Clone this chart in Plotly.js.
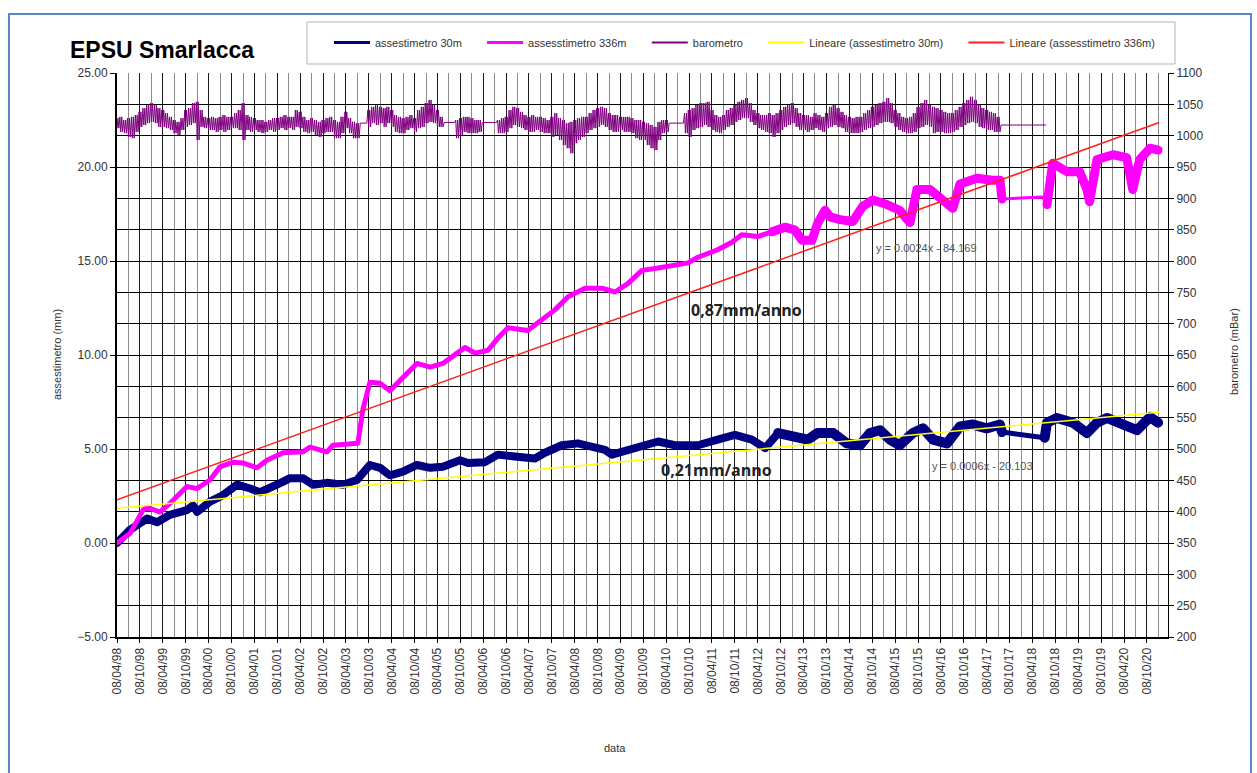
<!DOCTYPE html>
<html><head><meta charset="utf-8">
<script src="https://cdn.plot.ly/plotly-3.0.1.min.js"></script>
<style>
html,body{margin:0;padding:0;background:#fff}
#chart{width:1257px;height:773px}
.scatterlayer .js-line{stroke-linejoin:round;stroke-linecap:round}
</style>
</head><body><div id="chart"></div>
<script>
// ---------- DATA ----------
const seriesNames = ['assestimetro 30m','assesstimetro 336m','barometro','Lineare (assestimetro 30m)','Lineare (assesstimetro 336m)'];

// assestimetro 30m (mm)
const dates30 = ['1998-04-08','1998-07-20','1998-10-09','1998-12-04','1999-02-22','1999-06-04','1999-10-18','1999-12-05','2000-01-07','2000-04-19','2000-08-01','2000-11-21','2001-03-06','2001-05-23','2001-11-05','2002-01-18','2002-04-30','2002-07-20','2002-11-09','2003-03-15','2003-07-05','2003-10-17','2004-01-06','2004-03-25','2004-07-07','2004-10-27','2005-02-09','2005-05-21','2005-10-05','2005-12-08','2006-04-22','2006-08-04','2006-12-17','2007-05-26','2007-08-14','2007-12-26','2008-05-02','2008-08-23','2008-12-05','2009-01-30','2009-06-05','2009-10-20','2010-02-02','2010-06-17','2010-12-17','2011-05-23','2011-10-08','2012-02-20','2012-06-05','2012-09-17','2013-01-29','2013-05-11','2013-07-29','2013-11-29','2014-03-18','2014-07-02','2014-09-20','2014-12-08','2015-02-26','2015-05-14','2015-08-28','2015-11-17','2016-02-05','2016-05-26','2016-09-08','2016-12-20','2017-04-08','2017-07-23','2017-08-08','2018-07-15','2018-08-02','2018-10-20','2019-02-26','2019-06-17','2019-09-05','2019-11-23','2020-03-05','2020-07-20','2020-11-02','2021-01-05'];
const vals30 = [0.0,0.7,1.05,1.3,1.1,1.5,1.75,2.0,1.65,2.2,2.55,3.1,2.9,2.7,3.2,3.45,3.45,3.1,3.2,3.1,3.35,4.15,4.0,3.6,3.8,4.15,4.0,4.05,4.4,4.25,4.3,4.7,4.6,4.5,4.8,5.2,5.3,5.1,4.95,4.7,4.95,5.3,5.4,5.2,5.2,5.5,5.75,5.5,5.05,5.85,5.65,5.5,5.85,5.85,5.3,5.2,5.85,6.0,5.5,5.2,5.85,6.1,5.5,5.3,6.2,6.3,6.1,6.3,5.9,5.6,6.4,6.65,6.4,5.85,6.4,6.65,6.4,6.0,6.7,6.4];

// assesstimetro 336m (mm)
const dates336 = ['1998-04-08','1998-07-20','1998-11-01','1998-12-04','1999-03-16','1999-06-04','1999-10-18','2000-01-07','2000-04-19','2000-07-08','2000-10-20','2001-01-09','2001-04-29','2001-07-17','2001-11-23','2002-04-30','2002-06-26','2002-11-09','2002-12-26','2003-06-03','2003-07-13','2003-08-22','2003-10-17','2004-01-06','2004-03-25','2004-07-07','2004-10-27','2005-02-09','2005-05-21','2005-09-12','2005-11-14','2006-02-03','2006-05-16','2006-08-04','2006-10-23','2007-03-29','2007-07-20','2007-11-01','2008-02-14','2008-06-29','2008-11-11','2009-02-23','2009-06-05','2009-09-26','2010-01-08','2010-07-10','2010-09-29','2010-12-17','2011-05-23','2011-09-14','2011-12-02','2012-04-08','2012-07-29','2012-11-11','2013-01-29','2013-03-26','2013-06-14','2013-07-29','2013-09-26','2013-11-05','2014-01-23','2014-05-05','2014-07-23','2014-10-14','2015-02-02','2015-05-14','2015-08-05','2015-09-29','2016-01-11','2016-04-23','2016-07-11','2016-09-08','2017-01-20','2017-05-26','2017-07-23','2017-08-08','2018-06-29','2018-08-02','2018-09-17','2019-01-08','2019-04-20','2019-06-17','2019-07-08','2019-09-05','2020-01-11','2020-04-29','2020-06-17','2020-08-11','2020-11-02','2021-01-05'];
const vals336 = [0.0,0.5,1.75,1.9,1.65,2.1,3.0,2.9,3.35,4.05,4.3,4.25,4.0,4.4,4.8,4.85,5.1,4.85,5.2,5.3,5.3,7.1,8.55,8.5,8.1,8.8,9.55,9.35,9.55,10.1,10.4,10.1,10.25,10.9,11.45,11.3,11.85,12.4,13.1,13.55,13.55,13.35,13.8,14.5,14.6,14.8,14.9,15.2,15.6,16.0,16.4,16.3,16.55,16.8,16.65,16.1,16.1,17.0,17.7,17.35,17.2,17.1,17.9,18.25,18.0,17.7,17.05,18.8,18.8,18.25,17.8,19.1,19.4,19.3,19.3,18.3,18.4,18.0,20.2,19.75,19.75,18.8,18.15,20.4,20.65,20.5,18.8,20.4,21.0,20.9];

// barometro (mBar): monthly high / low, starting April 1998
const baroFirstMonth = '1998-04';
const baroHigh = [1028,1030,1025,1028,1030,1033,1038,1044,1049,1052,1049,1044,1041,1036,1030,1025,1022,1028,1041,1044,1052,1054,1041,1030,1028,1030,1028,1030,1033,1030,1030,1036,1041,1052,1033,1030,1028,1025,1025,1022,1025,1028,1028,1030,1033,1030,1030,1041,1038,1030,1025,1028,1025,1022,1025,1028,1030,1025,1022,1030,1038,1028,1022,1020,1020,1020,1041,1046,1049,1046,1044,1046,1041,1033,1030,1028,1030,1033,1028,1041,1046,1052,1057,1049,1041,1030,1021,1021,1021,1025,1028,1030,1030,1028,1025,1025,1021,1021,1021,1021,1025,1028,1030,1041,1046,1044,1038,1033,1030,1033,1030,1030,1028,1025,1030,1036,1028,1025,1020,1022,1025,1028,1030,1030,1036,1041,1044,1046,1044,1036,1033,1033,1030,1030,1030,1028,1025,1025,1022,1020,1017,1014,1022,1025,1025,1020,1020,1020,1020,1036,1041,1044,1049,1052,1052,1054,1041,1033,1030,1033,1041,1044,1049,1054,1057,1060,1052,1041,1036,1033,1033,1036,1033,1036,1041,1046,1049,1052,1044,1036,1033,1033,1030,1036,1033,1030,1036,1046,1049,1044,1038,1033,1030,1028,1030,1030,1036,1041,1046,1049,1052,1054,1060,1052,1041,1036,1030,1028,1030,1036,1046,1052,1057,1049,1046,1044,1041,1038,1036,1036,1041,1046,1052,1057,1062,1057,1049,1044,1041,1038,1036,1030,1017,1017,1017,1017,1017,1017,1017,1017,1017,1017,1017,1017];
const baroLow  = [1012,1006,1004,998,996,1006,1014,1017,1020,1022,1020,1014,1014,1012,1009,1004,1001,1009,1014,1017,1020,993,1014,1012,1009,1009,1006,1009,1006,1009,1012,1012,1009,993,1009,1006,1009,1006,1004,1006,1009,1006,1009,1012,1009,1012,1009,1014,1012,1006,1004,1006,1001,998,1004,1006,1006,996,996,1004,1012,1004,996,996,1020,1020,1014,1020,1017,1020,1014,1020,1014,1006,1004,1004,1009,1012,1006,1012,1014,1020,1022,1020,1014,1014,1021,1021,1021,996,1001,1006,1004,1004,1004,1006,1021,1021,1021,1021,1004,1004,1006,1012,1017,1014,1012,1009,1006,1006,1009,1006,1004,1004,998,1001,993,985,980,972,988,993,998,1004,1009,1012,1014,1017,1014,1009,1006,1006,1009,1006,1006,1004,996,993,993,985,980,977,993,1004,1006,1020,1020,1020,1020,1004,998,1009,1012,1014,1017,1014,1009,1006,1004,1009,1014,1017,1022,1025,1028,1028,1022,1017,1012,1009,1006,1004,998,1004,1009,1014,1017,1020,1014,1009,1009,1006,1009,1012,1009,1006,1012,1014,1017,1014,1012,1006,1004,1004,1004,1006,1009,1012,1014,1017,1020,1022,1022,1020,1014,1009,1006,1004,1004,1006,1012,1014,1017,1014,1004,1006,1006,1004,1004,1006,1009,1014,1017,1020,1022,1020,1014,1012,1009,1009,1006,1006,1017,1017,1017,1017,1017,1017,1017,1017,1017,1017,1017,1017];

// linear trend lines (Excel "Lineare")
const trendDates = ['1998-04-08','2021-01-08'];
const trend30 = [1.85, 6.95];
const trend336 = [2.3, 22.35];

// labels
const chartTitle = 'EPSU Smarlacca';
const yTitle = 'assestimetro (mm)';
const y2Title = 'barometro (mBar)';
const xTitle = 'data';
const rateLabels = ['0,87mm/anno','0,21mm/anno'];
const eqLabels = ['y = 0.0024x - 84.169','y = 0.0006x - 20.103'];

// ---------- BUILD ----------
const colors = {n30:'#000080', n336:'#ff00ff', baro:'#800080', t30:'#ffff00', t336:'#ff2020'};

function seg(d, v, from, to){
  const x=[], y=[];
  for(let i=0;i<d.length;i++){ if(d[i]>=from && d[i]<=to){x.push(d[i]); y.push(v[i]);} }
  return {x, y};
}
function monthDate(i, day){
  const [yy, mm] = baroFirstMonth.split('-').map(Number);
  const dt = new Date(Date.UTC(yy, mm-1+i, day));
  return dt.toISOString().slice(0,10);
}
// barometer trace: each month's high/low drawn as a dense zigzag
const bx=[], by=[];
for(let i=0;i<baroHigh.length;i++){
  [[1,baroHigh[i]],[8,baroLow[i]],[16,baroHigh[i]],[23,baroLow[i]]].forEach(p=>{
    bx.push(monthDate(i,p[0])); by.push(p[1]);
  });
}

const traces = [];
function addSeg(d, v, from, to, color, width){
  const s = seg(d, v, from, to);
  traces.push({type:'scatter', mode:'lines', x:s.x, y:s.y, xaxis:'x', yaxis:'y', showlegend:false,
    hoverinfo:'skip', line:{color, width}});
}
// 30m
addSeg(dates30, vals30, '0000', '2012-09-17', colors.n30, 8);
addSeg(dates30, vals30, '2012-09-17', '2017-08-08', colors.n30, 10);
addSeg(dates30, vals30, '2017-08-08', '2018-07-15', colors.n30, 5);
addSeg(dates30, vals30, '2018-07-15', '9999', colors.n30, 10);
// 336m
addSeg(dates336, vals336, '0000', '2012-07-29', colors.n336, 5);
addSeg(dates336, vals336, '2012-07-29', '2017-08-08', colors.n336, 9);
addSeg(dates336, vals336, '2017-08-08', '2018-08-02', colors.n336, 3);
addSeg(dates336, vals336, '2018-08-02', '9999', colors.n336, 9);
// barometro
traces.push({type:'scatter', mode:'lines', x:bx, y:by, xaxis:'x', yaxis:'y2', showlegend:false,
  hoverinfo:'skip', line:{color:colors.baro, width:1}});
// trends
traces.push({type:'scatter', mode:'lines', x:trendDates, y:trend30, yaxis:'y', showlegend:false, line:{color:colors.t30, width:1.5}});
traces.push({type:'scatter', mode:'lines', x:trendDates, y:trend336, yaxis:'y', showlegend:false, line:{color:colors.t336, width:1.5}});

// legend entries
const legendStyle = [[colors.n30,3],[colors.n336,3],[colors.baro,2],[colors.t30,2],[colors.t336,2]];
const pad = '\u00A0\u00A0\u00A0\u00A0\u00A0';
seriesNames.forEach((n,i)=>{
  traces.push({type:'scatter', mode:'lines', x:[null], y:[null], name:n+pad, showlegend:true,
    line:{color:legendStyle[i][0], width:legendStyle[i][1]}});
});

const L=117, R=1168, T=73, B=637, W=R-L, H=B-T;
const px = v => (v-L)/W, py = v => (B-v)/H;
const tickFont = {family:'Liberation Sans, Arial, sans-serif', size:12, color:'#333'};
const small = {family:'Liberation Sans, Arial, sans-serif', size:11, color:'#333'};

const layout = {
  width:1257, height:773,
  margin:{l:L, r:1257-R, t:T, b:773-B, pad:0},
  paper_bgcolor:'#fff', plot_bgcolor:'#fff',
  showlegend:true,
  legend:{orientation:'h', x:px(329), y:py(28), xanchor:'left', yanchor:'top',
    bgcolor:'rgba(0,0,0,0)', borderwidth:0, font:small, itemwidth:36, traceorder:'normal'},
  xaxis:{type:'date', range:['1998-04-08','2021-03-25'], tick0:'1998-04-08', dtick:'M6',
    tickformat:'%d/%m/%y', tickangle:-90, tickfont:tickFont,
    showgrid:true, gridcolor:'#1a1a1a', gridwidth:1,
    minor:{dtick:'M3', tick0:'1998-04-08', showgrid:true, gridcolor:'#8a8a8a', gridwidth:1},
    ticks:'outside', ticklen:4, tickcolor:'#000', showline:true, linecolor:'#000', linewidth:2,
    zeroline:false, fixedrange:true},
  yaxis:{range:[-5,25], dtick:5, tick0:0, tickformat:'.2f', tickfont:tickFont, showgrid:false,
    ticks:'outside', ticklen:5, tickcolor:'#000', showline:true, linecolor:'#000', linewidth:2,
    zeroline:false, fixedrange:true},
  yaxis2:{overlaying:'y', side:'right', range:[200,1100], dtick:50, tick0:200, tickfont:tickFont,
    showgrid:true, gridcolor:'#000', gridwidth:1, ticks:'outside', ticklen:5, tickcolor:'#000',
    showline:true, linecolor:'#000', linewidth:1, zeroline:false, fixedrange:true},
  shapes:[
    {type:'rect', xref:'paper', yref:'paper', x0:px(9), x1:px(1251), y0:py(800), y1:py(14),
      line:{color:'#5b86c5', width:2}, fillcolor:'rgba(0,0,0,0)', layer:'above'},
    {type:'rect', xref:'paper', yref:'paper', x0:px(307), x1:px(1175), y0:py(64), y1:py(22),
      line:{color:'#b4b4b4', width:1}, fillcolor:'rgba(0,0,0,0)', layer:'above'}
  ],
  annotations:[
    {text:'<b>'+chartTitle+'</b>', xref:'paper', yref:'paper', x:px(68), y:py(50), xanchor:'left', yanchor:'middle',
      showarrow:false, font:{family:'Liberation Sans, Arial, sans-serif', size:23, color:'#000'}},
    {text:yTitle, xref:'paper', yref:'paper', x:px(57), y:py(355), textangle:-90, showarrow:false,
      xanchor:'center', yanchor:'middle', font:small},
    {text:y2Title, xref:'paper', yref:'paper', x:px(1234), y:py(352), textangle:-90, showarrow:false,
      xanchor:'center', yanchor:'middle', font:small},
    {text:xTitle, xref:'paper', yref:'paper', x:px(615), y:py(748), showarrow:false,
      xanchor:'center', yanchor:'middle', font:small},
    {text:'<b>'+rateLabels[0]+'</b>', xref:'paper', yref:'paper', x:px(746), y:py(310), showarrow:false,
      xanchor:'center', yanchor:'middle', font:{family:'Open Sans, sans-serif', size:16, color:'#222'}},
    {text:'<b>'+rateLabels[1]+'</b>', xref:'paper', yref:'paper', x:px(716), y:py(470), showarrow:false,
      xanchor:'center', yanchor:'middle', font:{family:'Open Sans, sans-serif', size:16, color:'#222'}},
    {text:eqLabels[0], xref:'paper', yref:'paper', x:px(926), y:py(248), showarrow:false,
      xanchor:'center', yanchor:'middle', font:{family:'Liberation Sans, Arial, sans-serif', size:11, color:'#555'}},
    {text:eqLabels[1], xref:'paper', yref:'paper', x:px(982), y:py(466), showarrow:false,
      xanchor:'center', yanchor:'middle', font:{family:'Liberation Sans, Arial, sans-serif', size:11, color:'#555'}}
  ]
};

Plotly.newPlot('chart', traces, layout, {staticPlot:true, displayModeBar:false});
</script>
</body></html>
